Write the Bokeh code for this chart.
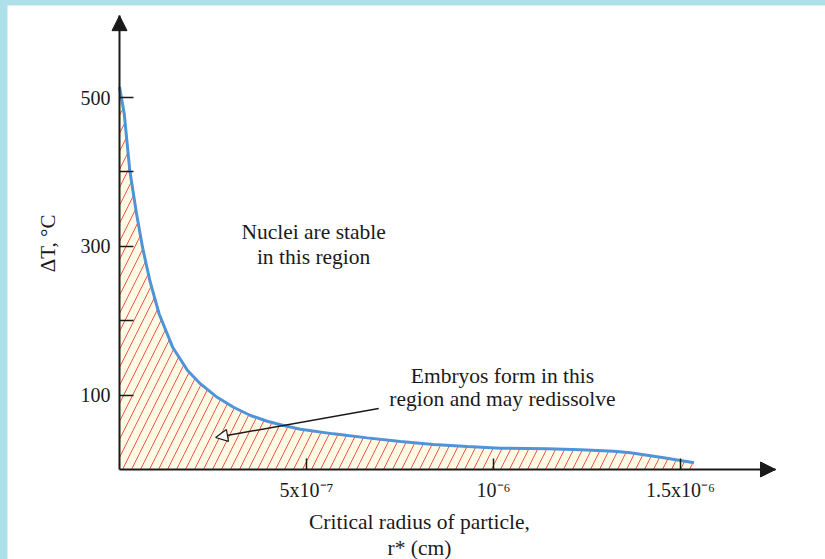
import math
from bokeh.plotting import figure
from bokeh.models import Range1d, FixedTicker, Label, Arrow, NormalHead
from bokeh.layouts import column
from bokeh.embed import file_html
from bokeh.resources import INLINE

# Critical radius r* in units of 1e-7 cm, and undercooling ΔT in °C
radius_e7 = [0.0, 0.126, 0.214, 0.275, 0.455, 0.615, 0.81, 1.06, 1.42, 1.82, 2.166,
             2.612, 3.048, 3.503, 3.949, 4.385, 4.840, 5.722, 6.623, 7.513, 8.396,
             9.297, 10.19, 11.44, 12.33, 13.22, 13.66, 14.11, 14.55, 15.0, 15.36]
delta_T = [514, 478.5, 433, 402, 343.7, 298.8, 254, 209, 164.4, 133, 115,
           97, 83.7, 72.6, 64.9, 59.1, 54.1, 47.9, 42.5, 37.6, 33.6,
           30.9, 28.6, 27.8, 26.5, 24.6, 22.4, 19.2, 15.7, 12.1, 9.0]

x_ticks = [5, 10, 15]
x_tick_labels = ["5x10\u207b\u2077", "10\u207b\u2076", "1.5x10\u207b\u2076"]
y_ticks = [100, 300, 500]
y_minor_ticks = [200, 400]

# axis extents (arrow tips) and visible data window
X_END, Y_END = 17.54, 610
X0, X1 = -2.995, 18.877
Y0, Y1 = -120.97, 623.66

FONT = "Liberation Serif"
INK = "#1a1a1a"

p = figure(width=818, height=554, x_range=Range1d(X0, X1), y_range=Range1d(Y0, Y1),
           output_backend="svg", toolbar_location=None,
           min_border_left=0, min_border_right=0, min_border_top=0, min_border_bottom=0,
           margin=(5, 0, 0, 7), background_fill_color="white", border_fill_color="white")
p.outline_line_color = None
p.grid.visible = False

p.varea(x=radius_e7, y1=0, y2=delta_T, fill_color="#fffde6",
        hatch_pattern="/", hatch_color="#ff3030", hatch_alpha=0.85,
        hatch_scale=18, hatch_weight=1)
p.line(radius_e7, delta_T, line_color="#4f94d8", line_width=3)

for ax in (p.xaxis[0], p.yaxis[0]):
    ax.fixed_location = 0
    ax.axis_line_color = INK
    ax.axis_line_width = 2
    ax.major_tick_line_color = INK
    ax.major_tick_line_width = 1.5
    ax.major_tick_out = 0
    ax.minor_tick_out = 0
    ax.major_label_text_font = FONT
    ax.major_label_text_font_size = "20px"
    ax.major_label_text_color = INK

p.xaxis.bounds = (0, X_END)
p.xaxis.ticker = FixedTicker(ticks=x_ticks)
p.xaxis.major_label_overrides = dict(zip(x_ticks, x_tick_labels))
p.xaxis.major_tick_in = 11
p.xaxis.major_label_standoff = 10
p.xaxis.minor_tick_line_color = None

p.yaxis.bounds = (0, Y_END)
p.yaxis.ticker = FixedTicker(ticks=y_ticks, minor_ticks=y_minor_ticks)
p.yaxis.major_tick_in = 14
p.yaxis.minor_tick_in = 14
p.yaxis.minor_tick_line_color = INK
p.yaxis.minor_tick_line_width = 1.5
p.yaxis.major_label_standoff = 9

# axis arrowheads
p.add_layout(Arrow(end=NormalHead(size=15, fill_color=INK, line_color=INK),
                   x_start=0, y_start=Y_END - 25, x_end=0, y_end=Y_END, line_alpha=0))
p.add_layout(Arrow(end=NormalHead(size=15, fill_color=INK, line_color=INK),
                   x_start=X_END - 0.6, y_start=0, x_end=X_END, y_end=0, line_alpha=0))

# annotation arrow
p.add_layout(Arrow(end=NormalHead(size=12, fill_color="white", line_color=INK, line_width=1.2),
                   x_start=6.93, y_start=82, x_end=2.57, y_end=43,
                   line_color=INK, line_width=1.5))

labels = [
    ("Nuclei are stable", 5.19, 319),
    ("in this region", 5.19, 286),
    ("Embryos form in this", 10.24, 126),
    ("region and may redissolve", 10.24, 95),
    ("Critical radius of particle,", 8.02, -70),
    ("r* (cm)", 8.02, -106),
]
for txt, lx, ly in labels:
    p.add_layout(Label(x=lx, y=ly, text=txt, text_align="center", text_baseline="middle",
                       text_font=FONT, text_font_size="21.5px", text_color=INK))

p.add_layout(Label(x=-1.925, y=304, text="\u0394T, \u00b0C", angle=math.pi / 2,
                   text_align="center", text_baseline="middle",
                   text_font=FONT, text_font_size="21px", text_color=INK))

layout = column(p, styles={"background-color": "#aee0e9"})
open("out.html", "w").write(file_html(layout, INLINE))
